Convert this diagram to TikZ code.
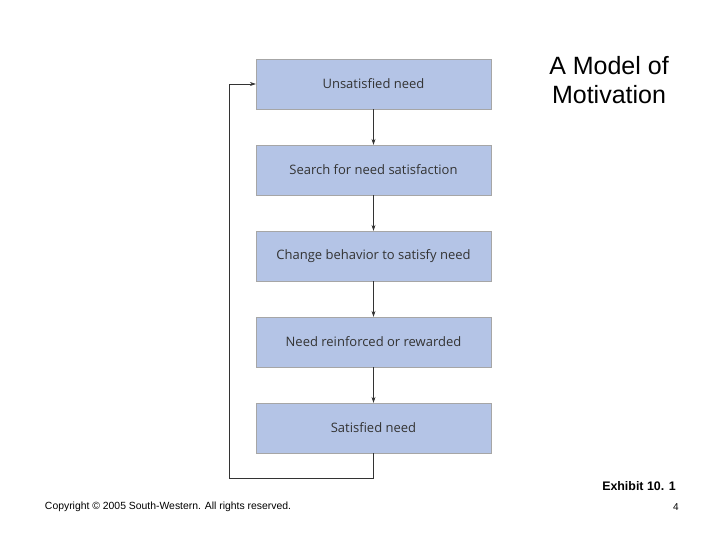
\documentclass[tikz,border=0pt]{standalone}
\usepackage{fontspec}
\setmainfont{Liberation Sans}
\newfontfamily\boxfont{Open Sans}
\usetikzlibrary{arrows.meta}
\definecolor{boxblue}{HTML}{B4C4E6}
\begin{document}
\begin{tikzpicture}[x=1pt,y=-1pt,
  stepbox/.style={draw=gray!70,fill=boxblue,minimum width=235pt,minimum height=50pt,inner sep=0pt,font=\boxfont\fontsize{13}{15}\selectfont,text=black!80},
  conn/.style={-{Stealth[length=6pt,width=4pt]},black!80,line width=0.6pt}]
\useasboundingbox (0,0) rectangle (720,540);
\node[stepbox] (b1) at (373.5,84) {Unsatisfied need};
\node[stepbox] (b2) at (373.5,170) {Search for need satisfaction};
\node[stepbox] (b3) at (373.5,256) {Change behavior to satisfy need};
\node[stepbox] (b4) at (373.5,342) {Need reinforced or rewarded};
\node[stepbox] (b5) at (373.5,428) {Satisfied need};
\draw[conn] (b1) -- (b2);
\draw[conn] (b2) -- (b3);
\draw[conn] (b3) -- (b4);
\draw[conn] (b4) -- (b5);
\coordinate (c1) at (373.5,478);
\coordinate (c2) at (229,478);
\coordinate (c3) at (229,84);
\draw[conn] (b5.south) -- (c1) -- (c2) -- (c3) -- (b1.west);
\node[align=center,font=\fontsize{25}{29}\selectfont] (title) at (609,80) {A Model of\\Motivation};
\node[font=\bfseries\fontsize{12.4}{14}\selectfont] (ex) at (639,486) {Exhibit 10. 1};
\node[font=\fontsize{10.4}{12}\selectfont] (copy) at (168,507) {Copyright © 2005 South-Western. All rights reserved.};
\node[font=\fontsize{10}{12}\selectfont] (pg) at (676,507) {4};
\end{tikzpicture}
\end{document}
